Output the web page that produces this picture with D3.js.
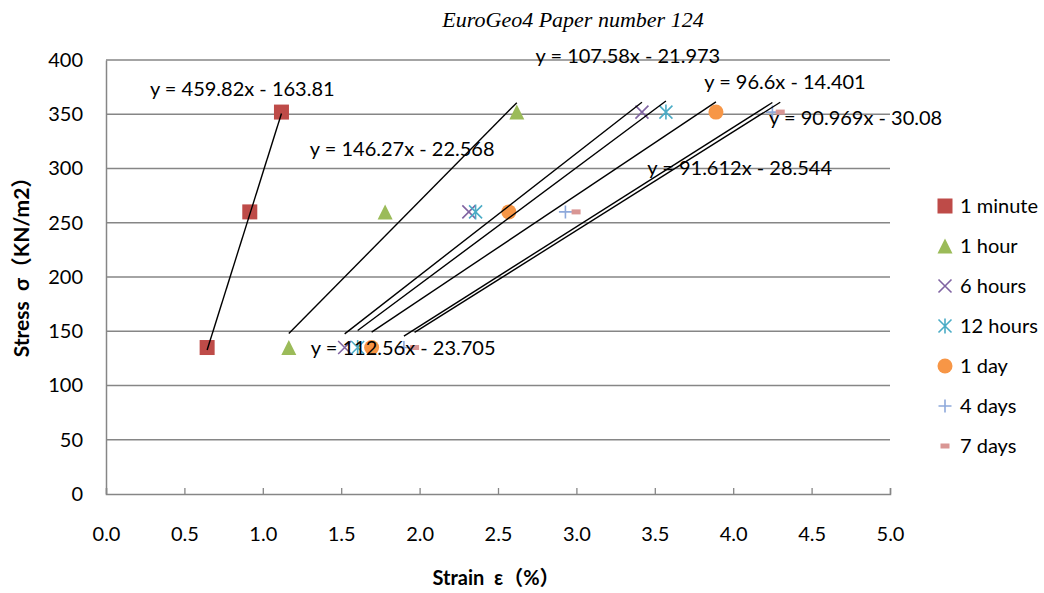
<!DOCTYPE html>
<html>
<head>
<meta charset="utf-8">
<script src="https://cdn.jsdelivr.net/npm/d3@7"></script>
<style>
  html, body { margin: 0; padding: 0; background: #fff; }
  svg { display: block; }
  .lbl { font-family: Lato, "Noto Sans CJK SC", sans-serif; fill: #000; }
</style>
</head>
<body>
<svg id="chart" width="1044" height="593"></svg>
<script>
// Creep test series: stress applied at three load steps, strain read after each duration
const seriesNames = ["1 minute", "1 hour", "6 hours", "12 hours", "1 day", "4 days", "7 days"];
const stressLevels = [135, 260, 352];
const strain1Minute = [0.645, 0.917, 1.119];
const strain1Hour   = [1.166, 1.780, 2.620];
const strain6Hours  = [1.522, 2.314, 3.418];
const strain12Hours = [1.605, 2.357, 3.571];
const strain1Day    = [1.694, 2.569, 3.890];
const strain4Days   = [1.900, 2.930, 4.250];
const strain7Days   = [1.968, 2.998, 4.300];
const strainSeries = [strain1Minute, strain1Hour, strain6Hours, strain12Hours, strain1Day, strain4Days, strain7Days];

// Linear trendline coefficients (stress = slope * strain + intercept)
const trendSlopes     = [459.82, 146.27, 112.56, 107.58, 96.6, 91.612, 90.969];
const trendIntercepts = [-163.81, -22.568, -23.705, -21.973, -14.401, -28.544, -30.08];

// Equation label anchors in data units (strain, stress)
const labelStrain = [0.28, 1.30, 1.306, 2.739, 3.815, 3.452, 4.229];
const labelStress = [373, 318, 134.6, 403.7, 379.7, 300.5, 346.5];

const xTicks = [0, 0.5, 1, 1.5, 2, 2.5, 3, 3.5, 4, 4.5, 5];
const yTicks = [0, 50, 100, 150, 200, 250, 300, 350, 400];

const colors  = ["#BE4B48", "#9BBB59", "#8064A2", "#4BACC6", "#F79646", "#8EA9DB", "#D99694"];
const markers = ["square", "triangle", "x", "star", "circle", "plus", "dash"];

const svg = d3.select("#chart");
const x = d3.scaleLinear().domain([0, 5]).range([106, 890]);
const y = d3.scaleLinear().domain([0, 400]).range([494, 60]);
const axisColor = "#868686";

// Title
svg.append("text")
  .attr("x", 573).attr("y", 27)
  .attr("text-anchor", "middle")
  .style("font-family", "'Liberation Serif', 'DejaVu Serif', serif")
  .style("font-style", "italic")
  .style("font-size", "22px")
  .text("EuroGeo4 Paper number 124");

// Horizontal gridlines
svg.append("g").selectAll("line").data(yTicks.filter(d => d > 0)).join("line")
  .attr("x1", x(0)).attr("x2", x(5))
  .attr("y1", d => y(d)).attr("y2", d => y(d))
  .attr("stroke", axisColor).attr("stroke-width", 1.3);

// Axes
const yAxis = d3.axisLeft(y).tickValues(yTicks).tickSize(0).tickPadding(23).tickFormat(d3.format("d"));
const gy = svg.append("g").attr("transform", `translate(${x(0)},0)`).call(yAxis);
gy.select(".domain").attr("stroke", axisColor).attr("stroke-width", 1.5);
gy.selectAll("text").attr("class", "lbl").style("font-size", "20px");

const xAxis = d3.axisBottom(x).tickValues(xTicks).tickSize(-6).tickPadding(33).tickFormat(d3.format(".1f"));
const gx = svg.append("g").attr("transform", `translate(0,${y(0)})`).call(xAxis);
gx.select(".domain").attr("stroke", axisColor).attr("stroke-width", 1.5);
gx.selectAll(".tick line").attr("stroke", axisColor).attr("stroke-width", 1.3);
gx.selectAll("text").attr("class", "lbl").style("font-size", "20px");

// Axis titles
svg.append("text")
  .attr("class", "lbl")
  .attr("transform", "translate(22,262) rotate(-90)")
  .attr("dy", "0.35em")
  .attr("text-anchor", "middle")
  .style("font-size", "21px").style("font-weight", "bold")
  .style("white-space", "pre")
  .text("Stress  σ（KN/m2）");
svg.append("text")
  .attr("class", "lbl")
  .attr("x", 496).attr("y", 578)
  .attr("dy", "0.35em")
  .attr("text-anchor", "middle")
  .style("font-size", "20px").style("font-weight", "bold")
  .style("white-space", "pre")
  .text("Strain  ε（%）");

// Marker drawing
function drawMarker(g, type, color, size) {
  const h = size / 2;
  switch (type) {
    case "square":
      g.append("rect").attr("x", -h).attr("y", -h).attr("width", size).attr("height", size).attr("fill", color);
      break;
    case "triangle":
      g.append("path").attr("d", `M0,${-h}L${h},${h}L${-h},${h}Z`).attr("fill", color);
      break;
    case "circle":
      g.append("circle").attr("r", h).attr("fill", color);
      break;
    case "x":
      g.append("path").attr("d", `M${-h},${-h}L${h},${h}M${-h},${h}L${h},${-h}`)
        .attr("stroke", color).attr("stroke-width", 1.6).attr("fill", "none");
      break;
    case "star":
      g.append("path").attr("d", `M${-h},${-h}L${h},${h}M${-h},${h}L${h},${-h}M0,${-h - 1}L0,${h + 1}`)
        .attr("stroke", color).attr("stroke-width", 1.6).attr("fill", "none");
      break;
    case "plus":
      g.append("path").attr("d", `M${-h},0L${h},0M0,${-h}L0,${h}`)
        .attr("stroke", color).attr("stroke-width", 1.6).attr("fill", "none");
      break;
    case "dash":
      g.append("rect").attr("x", -h).attr("y", -2.5).attr("width", size).attr("height", 5).attr("fill", color);
      break;
  }
}
const markerSize = [15, 15, 13, 13, 15, 13, 9];

// Data points
seriesNames.forEach((name, i) => {
  const g = svg.append("g");
  strainSeries[i].forEach((sx, j) => {
    const m = g.append("g").attr("transform", `translate(${x(sx)},${y(stressLevels[j])})`);
    drawMarker(m, markers[i], colors[i], markerSize[i]);
  });
});

// Trendlines across each series' strain range
seriesNames.forEach((name, i) => {
  const xs = d3.extent(strainSeries[i]);
  const f = sx => trendSlopes[i] * sx + trendIntercepts[i];
  svg.append("line")
    .attr("x1", x(xs[0])).attr("y1", y(f(xs[0])))
    .attr("x2", x(xs[1])).attr("y2", y(f(xs[1])))
    .attr("stroke", "#000").attr("stroke-width", 1.4);
});

// Equation labels
seriesNames.forEach((name, i) => {
  const sign = trendIntercepts[i] < 0 ? "-" : "+";
  svg.append("text")
    .attr("class", "lbl")
    .attr("x", x(labelStrain[i])).attr("y", y(labelStress[i]))
    .attr("dy", "0.35em")
    .style("font-size", "20px")
    .style("white-space", "pre")
    .text(`y = ${trendSlopes[i]}x ${sign} ${Math.abs(trendIntercepts[i])}`);
});

// Legend
const legend = svg.append("g");
seriesNames.forEach((name, i) => {
  const row = legend.append("g").attr("transform", `translate(0,${206 + i * 40})`);
  const m = row.append("g").attr("transform", "translate(945,0)");
  drawMarker(m, markers[i], colors[i], markerSize[i]);
  row.append("text").attr("class", "lbl")
    .attr("x", 960).attr("dy", "0.35em")
    .style("font-size", "20px")
    .text(name);
});
</script>
</body>
</html>
